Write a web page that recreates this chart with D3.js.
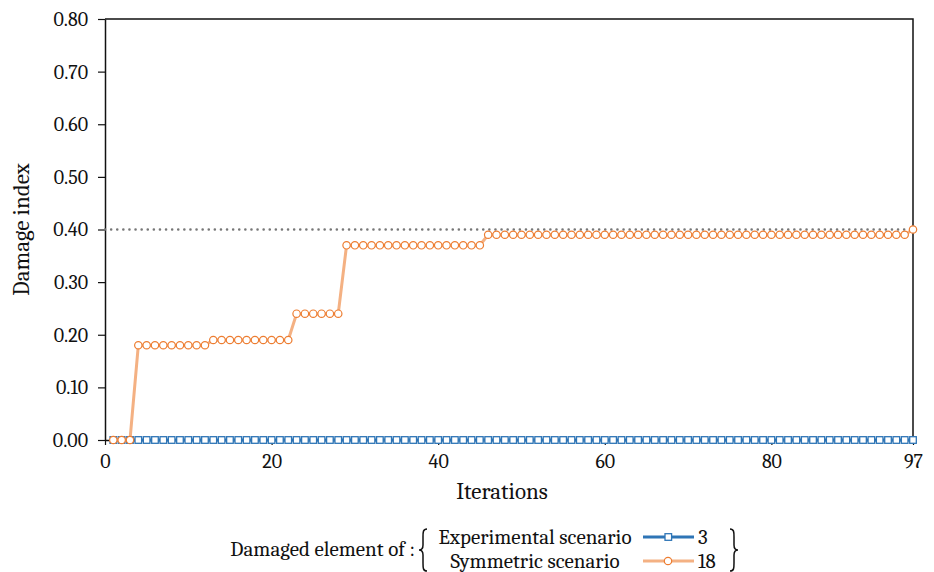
<!DOCTYPE html>
<html lang="en">
  <head>
    <meta charset="utf-8">
    <title>Damage index</title>
    <script src="https://d3js.org/d3.v7.js"></script>
    <style>
      body { margin: 0; background: #fff; }
    </style>
  </head>
  <body>
  <script>

  // data
  var iterations = d3.range(1, 98);
  // damaged element 3 - experimental scenario (stays at zero)
  var experimental = iterations.map(function () { return 0; });
  // damaged element 18 - symmetric scenario
  var symmetric = [0,0,0,
    0.18,0.18,0.18,0.18,0.18,0.18,0.18,0.18,0.18,
    0.19,0.19,0.19,0.19,0.19,0.19,0.19,0.19,0.19,0.19,
    0.24,0.24,0.24,0.24,0.24,0.24,
    0.37,0.37,0.37,0.37,0.37,0.37,0.37,0.37,0.37,0.37,0.37,0.37,0.37,0.37,0.37,0.37,0.37,
    0.39,0.39,0.39,0.39,0.39,0.39,0.39,0.39,0.39,0.39,0.39,0.39,0.39,0.39,0.39,0.39,0.39,
    0.39,0.39,0.39,0.39,0.39,0.39,0.39,0.39,0.39,0.39,0.39,0.39,0.39,0.39,0.39,0.39,0.39,
    0.39,0.39,0.39,0.39,0.39,0.39,0.39,0.39,0.39,0.39,0.39,0.39,0.39,0.39,0.39,0.39,0.39,
    0.40];
  var target = 0.40;
  var yTicks = [0, 0.1, 0.2, 0.3, 0.4, 0.5, 0.6, 0.7, 0.8];
  var xTicks = [0, 20, 40, 60, 80, 97];
  var legendNames = ["Experimental scenario", "Symmetric scenario"];
  var legendLabels = ["3", "18"];

  var w = 934;
  var h = 572;
  var margin = {top: 19, right: 21, bottom: 132, left: 105};
  var innerWidth = w - margin.left - margin.right;
  var innerHeight = h - margin.top - margin.bottom;

  var font = "Cambria, 'Liberation Serif', serif";
  var blue = "#2E75B6";
  var orangeLine = "#F4B183";
  var orangeMark = "#ED7D31";

  var xScale = d3.scaleLinear()
      .domain([0, 97])
      .range([0, innerWidth]);

  var yScale = d3.scaleLinear()
      .domain([0, 0.8])
      .range([innerHeight, 0]);

  var svg = d3.select("body")
    .append("svg")
      .attr("width", w)
      .attr("height", h)
      .attr("font-family", font);

  var g = svg.append("g")
      .attr("transform", `translate(${margin.left}, ${margin.top})`);

  // frame (top + right)
  g.append("path")
      .attr("d", `M0,0H${innerWidth}V${innerHeight}`)
      .attr("fill", "none")
      .attr("stroke", "#111")
      .attr("stroke-width", 1.5);

  var xAxis = d3.axisBottom(xScale)
      .tickValues(xTicks)
      .tickFormat(d3.format("d"))
      .tickSizeInner(5)
      .tickSizeOuter(0);

  var yAxis = d3.axisLeft(yScale)
      .tickValues(yTicks)
      .tickFormat(d3.format(".2f"))
      .tickSizeInner(7)
      .tickSizeOuter(0);

  var gx = g.append("g")
      .attr("transform", `translate(0, ${innerHeight})`)
      .call(xAxis);
  gx.selectAll("text").attr("y", 10).attr("dy", "0.9em");

  var gy = g.append("g").call(yAxis);
  gy.selectAll("text").attr("x", -17);

  [gx, gy].forEach(function (ax) {
    ax.attr("font-family", font).attr("font-size", 20);
    ax.select(".domain").attr("stroke", "#111").attr("stroke-width", 1.5);
    ax.selectAll(".tick line").attr("stroke", "#111").attr("stroke-width", 1.2);
    ax.selectAll("text").attr("fill", "#111");
  });

  // dotted reference line at 0.40
  g.append("line")
      .attr("x1", xScale(0))
      .attr("x2", xScale(97))
      .attr("y1", yScale(target))
      .attr("y2", yScale(target))
      .attr("stroke", "#777")
      .attr("stroke-width", 2.5)
      .attr("stroke-linecap", "round")
      .attr("stroke-dasharray", "0.1,6");

  var line = d3.line()
      .x(function (d, i) { return xScale(iterations[i]); })
      .y(function (d) { return yScale(d); });

  // experimental (blue squares)
  g.append("path")
      .datum(experimental)
      .attr("d", line)
      .attr("fill", "none")
      .attr("stroke", blue)
      .attr("stroke-width", 3);

  g.selectAll(".sq")
      .data(experimental)
      .enter().append("rect")
      .attr("class", "sq")
      .attr("x", function (d, i) { return xScale(iterations[i]) - 3.3; })
      .attr("y", function (d) { return yScale(d) - 3.3; })
      .attr("width", 6.6)
      .attr("height", 6.6)
      .attr("fill", "#fff")
      .attr("stroke", blue)
      .attr("stroke-width", 1.3);

  // symmetric (orange circles)
  g.append("path")
      .datum(symmetric)
      .attr("d", line)
      .attr("fill", "none")
      .attr("stroke", orangeLine)
      .attr("stroke-width", 3);

  g.selectAll(".dot")
      .data(symmetric)
      .enter().append("circle")
      .attr("class", "dot")
      .attr("cx", function (d, i) { return xScale(iterations[i]); })
      .attr("cy", function (d) { return yScale(d); })
      .attr("r", 3.7)
      .attr("fill", "#fff")
      .attr("stroke", orangeMark)
      .attr("stroke-width", 1.2);

  // axis titles
  svg.append("text")
      .attr("x", margin.left + innerWidth / 2 - 7)
      .attr("y", 499)
      .attr("text-anchor", "middle")
      .attr("font-size", 23)
      .attr("fill", "#111")
      .text("Iterations");

  svg.append("text")
      .attr("transform", `translate(29, ${margin.top + innerHeight / 2}) rotate(-90)`)
      .attr("text-anchor", "middle")
      .attr("font-size", 23)
      .attr("fill", "#111")
      .text("Damage index");

  // legend
  var leg = svg.append("g").attr("fill", "#111").attr("font-size", 21);
  leg.append("text")
      .attr("x", 415).attr("y", 556)
      .attr("text-anchor", "end")
      .text("Damaged element of :");

  // curly braces
  function brace(x, top, bot, dir) {
    var mid = (top + bot) / 2, d = 4 * dir;
    return `M${x + d},${top} C${x},${top} ${x},${top + 3} ${x},${top + 8}` +
      ` L${x},${mid - 5} C${x},${mid - 1} ${x - d * 0.6},${mid} ${x - d},${mid}` +
      ` C${x - d * 0.6},${mid} ${x},${mid + 1} ${x},${mid + 5}` +
      ` L${x},${bot - 8} C${x},${bot - 3} ${x},${bot} ${x + d},${bot}`;
  }
  leg.append("path")
      .attr("d", brace(423, 529, 571, 1))
      .attr("fill", "none").attr("stroke", "#111").attr("stroke-width", 1.5);
  leg.append("path")
      .attr("d", brace(734, 529, 571, -1))
      .attr("fill", "none").attr("stroke", "#111").attr("stroke-width", 1.5);

  legendNames.forEach(function (name, i) {
    var yy = 537 + i * 24;
    var color = i === 0 ? blue : orangeLine;
    leg.append("text")
        .attr("x", 535).attr("y", yy + 7)
        .attr("text-anchor", "middle")
        .text(name);
    leg.append("line")
        .attr("x1", 643).attr("x2", 694)
        .attr("y1", yy).attr("y2", yy)
        .attr("stroke", color)
        .attr("stroke-width", 3);
    if (i === 0) {
      leg.append("rect")
          .attr("x", 665).attr("y", yy - 3.3)
          .attr("width", 6.6).attr("height", 6.6)
          .attr("fill", "#fff")
          .attr("stroke", blue)
          .attr("stroke-width", 1.3);
    } else {
      leg.append("circle")
          .attr("cx", 668).attr("cy", yy)
          .attr("r", 3.7)
          .attr("fill", "#fff")
          .attr("stroke", orangeMark)
          .attr("stroke-width", 1.2);
    }
    leg.append("text")
        .attr("x", 698).attr("y", yy + 7)
        .text(legendLabels[i]);
  });

    </script>
  </body>
</html>
